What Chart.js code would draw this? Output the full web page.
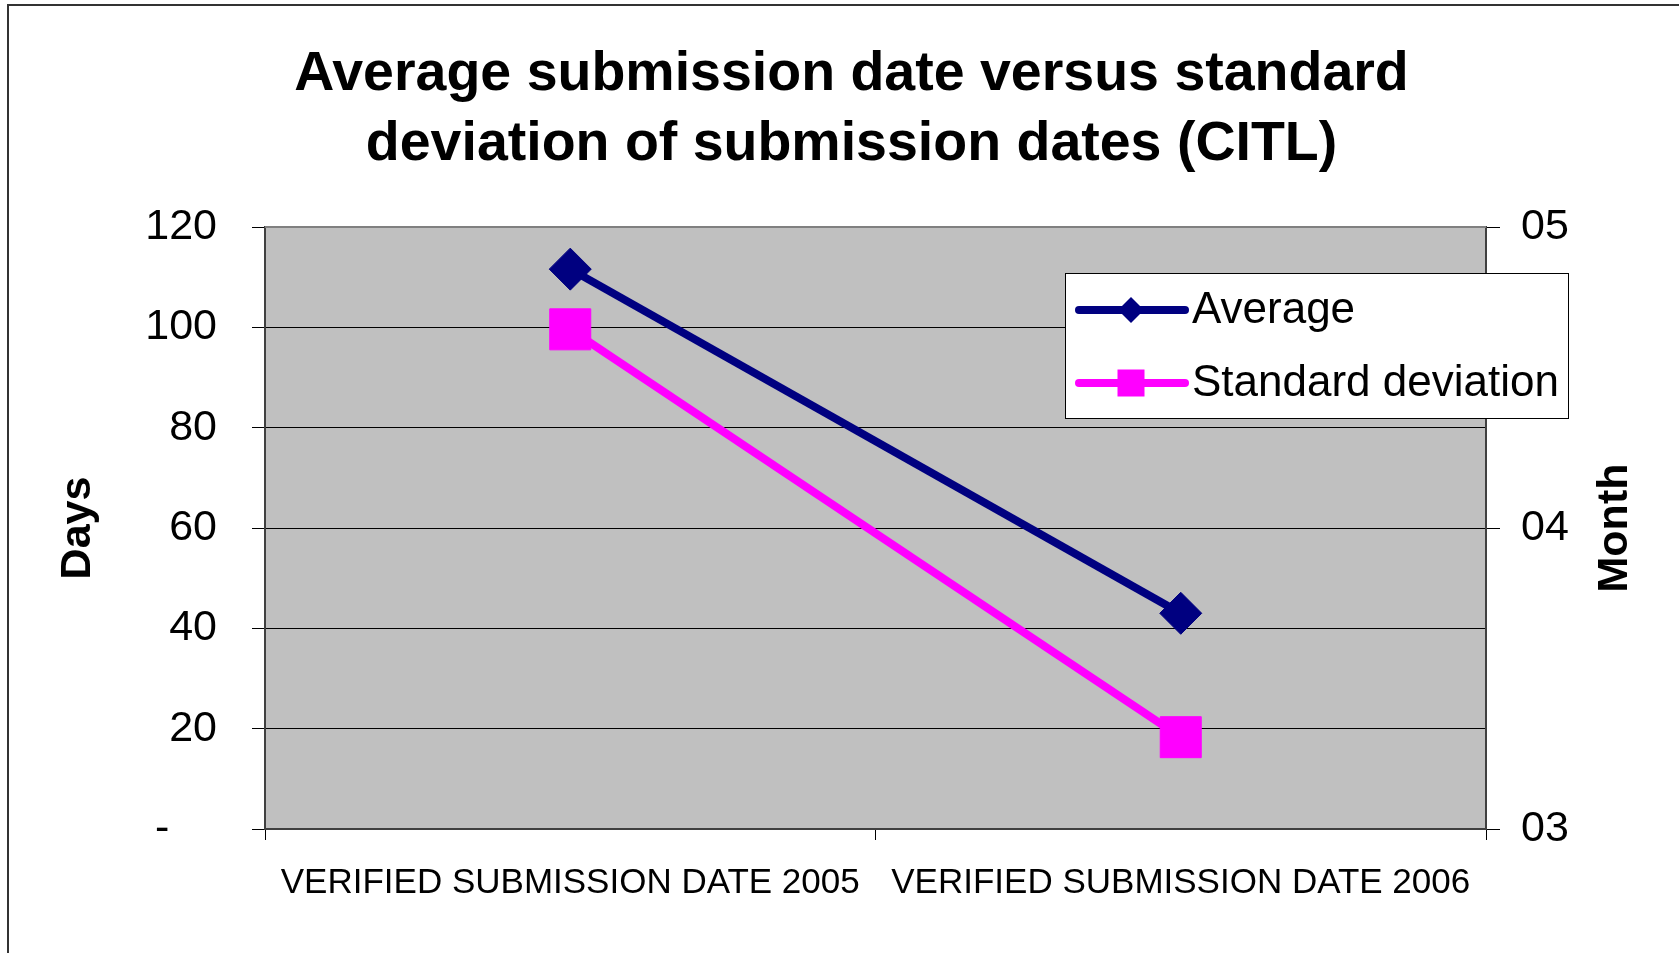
<!DOCTYPE html>
<html>
<head>
<meta charset="utf-8">
<script src="https://cdn.jsdelivr.net/npm/chart.js@4/dist/chart.umd.min.js"></script>
<style>
  html, body { margin: 0; padding: 0; background: #fff; }
  #wrap { width: 1679px; height: 953px; position: relative; }
</style>
</head>
<body>
<div id="wrap"><canvas id="c" width="1679" height="953"></canvas></div>
<script>
const categories = ['VERIFIED SUBMISSION DATE 2005', 'VERIFIED SUBMISSION DATE 2006'];
const averageDays = [111.6, 43.0];
const stdDevDays = [99.6, 18.3];
const leftTicks = [0, 20, 40, 60, 80, 100, 120];
const rightTickLabels = ['03', '04', '05'];
const seriesNames = ['Average', 'Standard deviation'];
const titleLines = ['Average submission date versus standard', 'deviation of submission dates (CITL)'];

const FONT = "'Liberation Sans', Arial, sans-serif";

const frameAndBg = {
  id: 'frameAndBg',
  beforeDraw(chart) {
    const {ctx, chartArea: a} = chart;
    ctx.save();
    ctx.fillStyle = '#C0C0C0';
    ctx.fillRect(a.left, a.top, a.right - a.left, a.bottom - a.top);
    // outer frame (top and left)
    ctx.strokeStyle = '#333333';
    ctx.lineWidth = 2;
    ctx.beginPath();
    ctx.moveTo(8, 953);
    ctx.lineTo(8, 5);
    ctx.lineTo(1679, 5);
    ctx.stroke();
    ctx.restore();
  },
  beforeDatasetsDraw(chart) {
    const {ctx, chartArea: a} = chart;
    ctx.save();
    ctx.strokeStyle = '#808080';
    ctx.lineWidth = 2;
    ctx.beginPath();
    ctx.moveTo(a.left, a.top);
    ctx.lineTo(a.right, a.top);
    ctx.stroke();
    ctx.restore();
  }
};

const extras = {
  id: 'extras',
  afterDraw(chart) {
    const {ctx, chartArea: a} = chart;
    ctx.save();
    // right axis title "Month", reading bottom to top
    ctx.translate(a.right + 129, (a.top + a.bottom) / 2);
    ctx.rotate(-Math.PI / 2);
    ctx.fillStyle = '#000';
    ctx.font = "bold 43px " + FONT;
    ctx.textAlign = 'center';
    ctx.textBaseline = 'middle';
    ctx.fillText('Month', 0, 0);
    ctx.restore();

    // legend box
    const bx = a.right - 421, by = a.top + 46, bw = 503, bh = 145;
    ctx.save();
    ctx.fillStyle = '#fff';
    ctx.fillRect(bx, by, bw, bh);
    ctx.strokeStyle = '#000';
    ctx.lineWidth = 1;
    ctx.strokeRect(bx + 0.5, by + 0.5, bw, bh);
    const ds = chart.data.datasets;
    const rows = [by + 37, by + 110];
    ds.forEach((d, i) => {
      const y = rows[i];
      ctx.strokeStyle = d.borderColor;
      ctx.lineWidth = 8;
      ctx.lineCap = 'round';
      ctx.beginPath();
      ctx.moveTo(bx + 14, y);
      ctx.lineTo(bx + 120, y);
      ctx.stroke();
      ctx.fillStyle = d.borderColor;
      const cx = bx + 66;
      if (d.pointStyle === 'rectRot') {
        const r = 13;
        ctx.beginPath();
        ctx.moveTo(cx - r, y); ctx.lineTo(cx, y - r); ctx.lineTo(cx + r, y); ctx.lineTo(cx, y + r);
        ctx.closePath();
        ctx.fill();
      } else {
        const s = 27;
        ctx.fillRect(cx - s / 2, y - s / 2, s, s);
      }
      ctx.fillStyle = '#000';
      ctx.font = "44px " + FONT;
      ctx.textAlign = 'left';
      ctx.textBaseline = 'middle';
      ctx.fillText(d.label, bx + 127, y + 1);
    });
    ctx.restore();
  }
};

new Chart(document.getElementById('c'), {
  type: 'line',
  data: {
    labels: categories,
    datasets: [
      {
        label: seriesNames[0],
        data: averageDays,
        yAxisID: 'y',
        borderColor: '#000080',
        backgroundColor: '#000080',
        borderWidth: 8,
        pointStyle: 'rectRot',
        pointRadius: 21,
        pointHoverRadius: 21,
        pointBorderWidth: 1,
        tension: 0
      },
      {
        label: seriesNames[1],
        data: stdDevDays,
        yAxisID: 'y',
        borderColor: '#FF00FF',
        backgroundColor: '#FF00FF',
        borderWidth: 8,
        pointStyle: 'rect',
        pointRadius: 29,
        pointHoverRadius: 29,
        pointBorderWidth: 1,
        tension: 0
      }
    ]
  },
  options: {
    responsive: false,
    animation: false,
    events: [],
    layout: { padding: { left: 24, right: 0, top: 0, bottom: 0 } },
    plugins: {
      legend: { display: false },
      tooltip: { enabled: false },
      title: {
        display: true,
        text: titleLines,
        color: '#000',
        font: { family: FONT, size: 55.5, weight: 'bold', lineHeight: 70 / 55.5 },
        padding: { top: 40, bottom: 47 }
      }
    },
    scales: {
      x: {
        type: 'category',
        offset: true,
        grid: { offset: true, drawOnChartArea: false, drawTicks: true, tickLength: 11, color: '#000', lineWidth: 1 },
        border: { display: true, color: '#404040', width: 2 },
        ticks: { color: '#000', font: { family: FONT, size: 35 }, padding: 22, maxRotation: 0, autoSkip: false },
        afterFit(s) { s.height = 124; }
      },
      y: {
        position: 'left',
        min: leftTicks[0],
        max: leftTicks[leftTicks.length - 1],
        afterBuildTicks(s) { s.ticks = leftTicks.map(v => ({ value: v })); },
        grid: { color: '#000', lineWidth: 1, drawTicks: true, tickLength: 13 },
        border: { display: true, color: '#404040', width: 2 },
        ticks: {
          color: '#000',
          font: { family: FONT, size: 43 },
          padding: 35,
          callback: v => (v === 0 ? '-    ' : String(v))
        },
        title: {
          display: true,
          text: 'Days',
          color: '#000',
          font: { family: FONT, size: 43, weight: 'bold' },
          padding: { top: 28, bottom: 0 }
        },
        afterFit(s) { s.width = 241; }
      },
      y2: {
        position: 'right',
        min: 3,
        max: 5,
        afterBuildTicks(s) { s.ticks = rightTickLabels.map(t => ({ value: Number(t) })); },
        grid: { drawOnChartArea: false, drawTicks: true, tickLength: 14, color: '#000', lineWidth: 1 },
        border: { display: true, color: '#404040', width: 2 },
        ticks: {
          color: '#000',
          font: { family: FONT, size: 43 },
          padding: 21,
          callback: v => rightTickLabels[rightTickLabels.map(Number).indexOf(v)]
        },
        afterFit(s) { s.width = 193; }
      }
    }
  },
  plugins: [frameAndBg, extras]
});
</script>
</body>
</html>
